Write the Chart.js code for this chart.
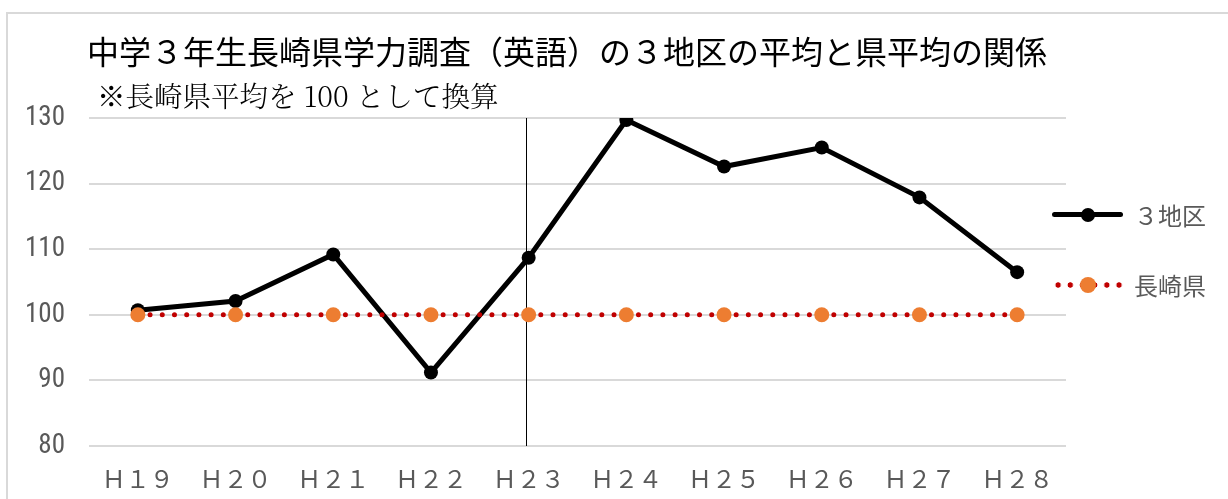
<!DOCTYPE html>
<html>
<head>
<meta charset="utf-8">
<script src="https://cdn.jsdelivr.net/npm/chart.js@4"></script>
<style>
    html, body { margin: 0; padding: 0; background: #fff; overflow: hidden; }
    #wrap { position: relative; width: 1228px; height: 499px; overflow: hidden; }
    .frame { position: absolute; left: 6px; top: 12px; width: 1300px; height: 600px;
             border: 2px solid #d9d9d9; box-sizing: border-box; }
    canvas { position: absolute; left: 0; top: 0; }
    .title { position: absolute; left: 87px; top: 31px; font: 32px "Noto Sans CJK JP", sans-serif;
             color: #000; line-height: 38px; white-space: nowrap; }
    .subtitle { position: absolute; left: 97px; top: 78px; font: 300 28.5px "Noto Serif CJK JP", "Noto Sans CJK JP", serif;
                color: #000; line-height: 34px; white-space: nowrap; }
    .legend { position: absolute; left: 1052px; font: 24px "Noto Sans CJK JP", sans-serif; color: #595959; }
    .legend .row { position: absolute; left: 0; height: 30px; width: 170px; }
    .legend .sym { position: absolute; left: 0; top: 0; width: 71px; height: 30px; }
    .legend .txt { position: absolute; left: 82px; top: 0; line-height: 30px; white-space: nowrap; }
    .solid { position: absolute; left: 0; top: 12px; width: 71px; height: 5px; background: #000; border-radius: 3px; }
    .dots { position: absolute; left: 0; top: 12px; width: 74px; height: 6px;
            background: radial-gradient(circle, #c00000 2.4px, transparent 3px) 0 0 / 12.2px 6px repeat-x; }
    .mk { position: absolute; left: 29px; top: 8px; width: 14px; height: 14px; border-radius: 50%; }
</style>
</head>
<body>
<div id="wrap">
    <div class="frame"></div>
    <canvas id="myChart" width="1228" height="499"></canvas>
    <div class="title">中学３年生長崎県学力調査（英語）の３地区の平均と県平均の関係</div>
    <div class="subtitle">※長崎県平均を 100 として換算</div>
    <div class="legend">
        <div class="row" style="top:200px">
            <div class="sym"><div class="solid"></div><div class="mk" style="background:#000"></div></div>
            <div class="txt">３地区</div>
        </div>
        <div class="row" style="top:270px">
            <div class="sym"><div class="dots"></div><div class="mk" style="background:#ed7d31;left:28px;top:7px;width:16px;height:16px"></div></div>
            <div class="txt">長崎県</div>
        </div>
    </div>
</div>
<script>
const categories = ['Ｈ１９', 'Ｈ２０', 'Ｈ２１', 'Ｈ２２', 'Ｈ２３', 'Ｈ２４', 'Ｈ２５', 'Ｈ２６', 'Ｈ２７', 'Ｈ２８'];
const chikuValues = [100.7, 102.1, 109.2, 91.2, 108.7, 129.7, 122.6, 125.5, 117.9, 106.5];
const kenValues = [100, 100, 100, 100, 100, 100, 100, 100, 100, 100];
const yTicks = [80, 90, 100, 110, 120, 130];
const markedYear = 'Ｈ２３';

// thin vertical rule at H23, drawn behind the series
const markerLine = {
    id: 'markerLine',
    beforeDatasetsDraw(chart) {
        let ctx = chart.ctx;
        let x = Math.round(chart.scales.x.getPixelForValue(markedYear)) - 2.5;
        ctx.save();
        ctx.strokeStyle = '#000';
        ctx.lineWidth = 1;
        ctx.beginPath();
        ctx.moveTo(x, chart.chartArea.top);
        ctx.lineTo(x, chart.chartArea.bottom);
        ctx.stroke();
        ctx.restore();
    }
};

let ctx = document.getElementById('myChart').getContext('2d');
let chart = new Chart(ctx, {
    type: 'line',
    data: {
        labels: categories,
        datasets: [{
            label: '３地区',
            data: chikuValues,
            borderColor: '#000',
            backgroundColor: '#000',
            borderWidth: 5,
            pointRadius: 7,
            pointBorderWidth: 0,
            pointBackgroundColor: '#000',
            tension: 0,
            order: 1
        }, {
            label: '長崎県',
            data: kenValues,
            borderColor: '#c00000',
            borderWidth: 5,
            borderDash: [0.01, 12.2],
            borderCapStyle: 'round',
            pointRadius: 7.5,
            pointBorderWidth: 0,
            pointBackgroundColor: '#ed7d31',
            tension: 0,
            order: 0
        }]
    },
    options: {
        responsive: false,
        animation: false,
        events: [],
        layout: { padding: { left: 0, right: 162, top: 118, bottom: 0 } },
        plugins: { legend: { display: false }, tooltip: { enabled: false } },
        scales: {
            x: {
                offset: true,
                grid: { display: false, drawTicks: false },
                border: { display: false },
                ticks: {
                    color: '#595959',
                    padding: 18,
                    maxRotation: 0,
                    font: { family: '"Noto Sans CJK JP", sans-serif', size: 24 }
                },
                afterFit(s) { s.height = 53; }
            },
            y: {
                min: yTicks[0],
                max: yTicks[yTicks.length - 1],
                afterBuildTicks(s) { s.ticks = yTicks.map(v => ({ value: v })); },
                grid: { color: '#d9d9d9', lineWidth: 2, drawTicks: false },
                border: { display: false },
                ticks: {
                    color: '#595959',
                    padding: 24,
                    font: { family: '"Liberation Sans Narrow", "Roboto Condensed", "Liberation Sans", sans-serif', size: 27 }
                },
                afterFit(s) { s.width = 89; }
            }
        }
    },
    plugins: [markerLine]
});
</script>
</body>
</html>
